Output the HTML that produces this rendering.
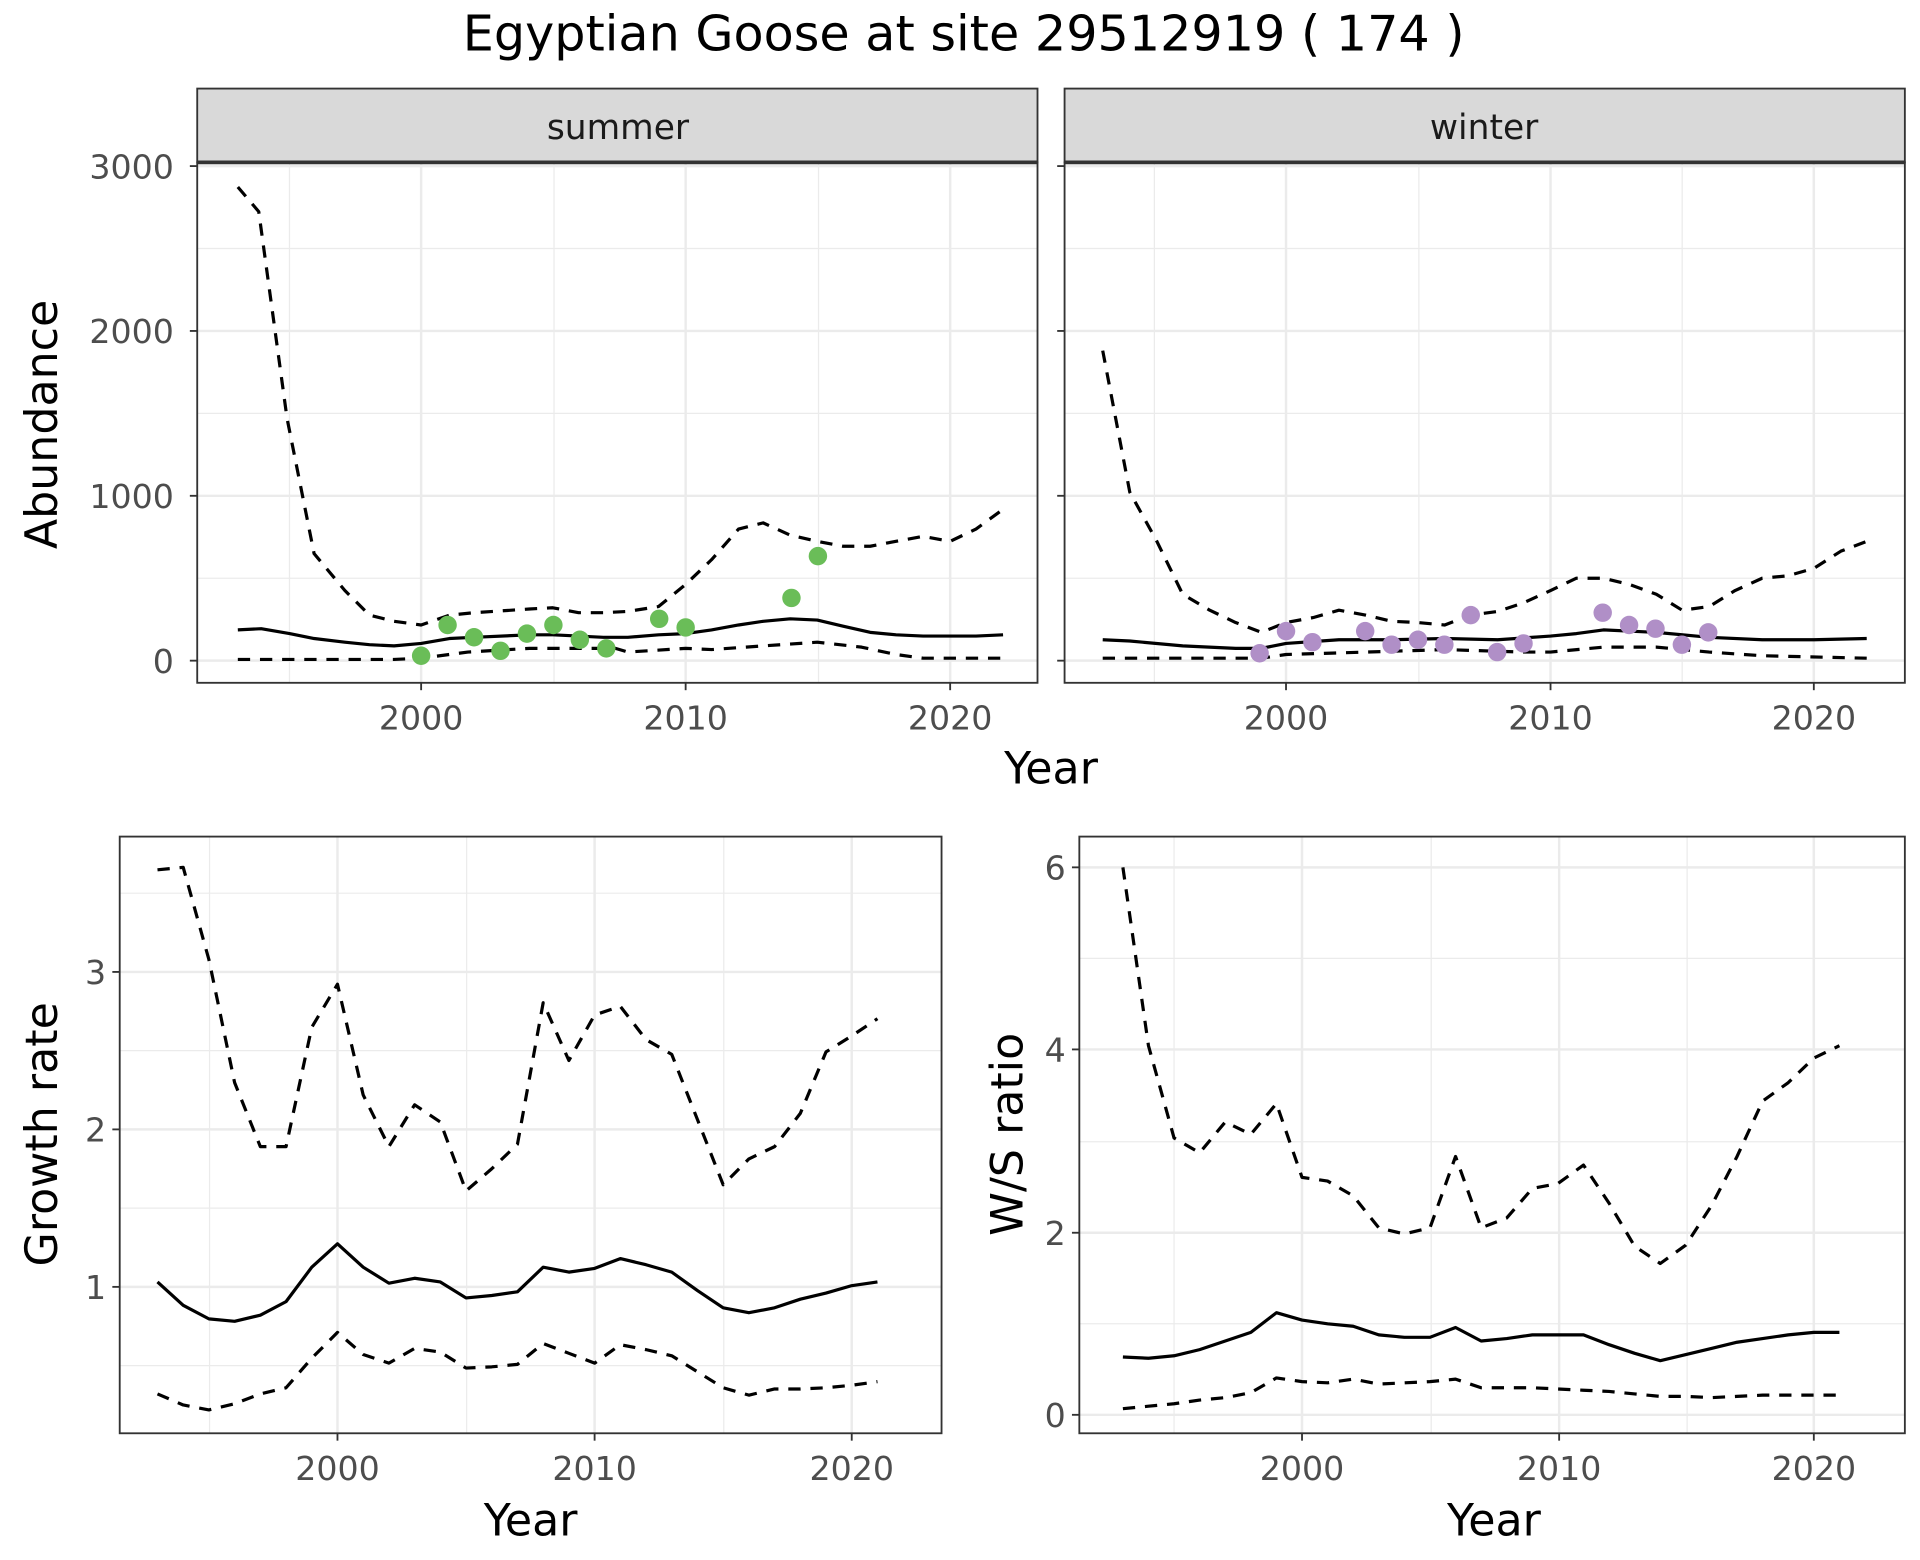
<!DOCTYPE html>
<html><head><meta charset="utf-8"><style>
html,body{margin:0;padding:0;background:#fff;}
svg{display:block;}
text{font-family:"DejaVu Sans","Liberation Sans",sans-serif;}
</style></head><body>
<svg id="s" width="1920" height="1560" viewBox="0 0 1560 1268" xmlns="http://www.w3.org/2000/svg">
<rect width="1560" height="1268" fill="#fff"/>
<text x="783" y="41" font-size="40" text-anchor="middle" fill="#000">Egyptian Goose at site 29512919 ( 174 )</text>

<g id="g"></g>

<rect x="160" y="72" width="683" height="60" fill="#d9d9d9" stroke="#333" stroke-width="1.5"/>
<rect x="865" y="72" width="683" height="60" fill="#d9d9d9" stroke="#333" stroke-width="1.5"/>
<line x1="160" x2="843" y1="132" y2="132" stroke="#333" stroke-width="3"/>
<line x1="865" x2="1548" y1="132" y2="132" stroke="#333" stroke-width="3"/>
<text x="502" y="113" font-size="28" text-anchor="middle" fill="#1a1a1a">summer</text>
<text x="1206" y="113" font-size="28" text-anchor="middle" fill="#1a1a1a">winter</text>

<g font-size="27" fill="#4d4d4d">
<text x="141" y="145" text-anchor="end">3000</text>
<text x="141" y="279" text-anchor="end">2000</text>
<text x="141" y="413" text-anchor="end">1000</text>
<text x="141" y="547" text-anchor="end">0</text>
<text x="342" y="593" text-anchor="middle">2000</text>
<text x="557" y="593" text-anchor="middle">2010</text>
<text x="772" y="593" text-anchor="middle">2020</text>
<text x="1045" y="593" text-anchor="middle">2000</text>
<text x="1260" y="593" text-anchor="middle">2010</text>
<text x="1474" y="593" text-anchor="middle">2020</text>
<text x="86" y="1056" text-anchor="end">1</text>
<text x="86" y="928" text-anchor="end">2</text>
<text x="86" y="800" text-anchor="end">3</text>
<text x="274" y="1203" text-anchor="middle">2000</text>
<text x="483" y="1203" text-anchor="middle">2010</text>
<text x="692" y="1203" text-anchor="middle">2020</text>
<text x="866" y="1160" text-anchor="end">0</text>
<text x="866" y="1012" text-anchor="end">2</text>
<text x="866" y="863" text-anchor="end">4</text>
<text x="866" y="715" text-anchor="end">6</text>
<text x="1058" y="1203" text-anchor="middle">2000</text>
<text x="1267" y="1203" text-anchor="middle">2010</text>
<text x="1474" y="1203" text-anchor="middle">2020</text>
</g>
<g font-size="36" fill="#000">
<text x="854" y="637" text-anchor="middle">Year</text>
<text x="431" y="1248" text-anchor="middle">Year</text>
<text x="1214" y="1248" text-anchor="middle">Year</text>
<text transform="translate(46,345) rotate(-90)" text-anchor="middle">Abundance</text>
<text transform="translate(46,922) rotate(-90)" text-anchor="middle">Growth rate</text>
<text transform="translate(831,922) rotate(-90)" text-anchor="middle">W/S ratio</text>
</g>
<g id="d"></g>
</svg>
<script>
var NS="http://www.w3.org/2000/svg";
var G=document.getElementById('g'),D=document.getElementById('d');
function el(p,t,a){var e=document.createElementNS(NS,t);for(var k in a)e.setAttribute(k,a[k]);p.appendChild(e);return e;}
function panel(x0,y0,x1,y1,xs,ys,xmin,ymin){
  xmin.forEach(function(x){el(G,'line',{x1:x,x2:x,y1:y0,y2:y1,stroke:'#ebebeb','stroke-width':1});});
  ymin.forEach(function(y){el(G,'line',{x1:x0,x2:x1,y1:y,y2:y,stroke:'#ebebeb','stroke-width':1});});
  xs.forEach(function(x){el(G,'line',{x1:x,x2:x,y1:y0,y2:y1,stroke:'#ebebeb','stroke-width':2});
    el(G,'line',{x1:x,x2:x,y1:y1,y2:y1+6,stroke:'#333','stroke-width':1.5});});
  ys.forEach(function(y){el(G,'line',{x1:x0,x2:x1,y1:y,y2:y,stroke:'#ebebeb','stroke-width':2});
    el(G,'line',{x1:x0-6,x2:x0,y1:y,y2:y,stroke:'#333','stroke-width':1.5});});
  el(G,'rect',{x:x0,y:y0,width:x1-x0,height:y1-y0,fill:'none',stroke:'#333','stroke-width':1.5});
}
panel(160,132,843,555,[342,557,772],[135,269,403,537],[235,450,665],[202,336,470]);
panel(865,132,1548,555,[1045,1260,1474],[135,269,403,537],[938,1153,1367],[202,336,470]);
panel(97,680,765,1165,[274,483,692],[790,918,1046],[170,379,588],[726,854,982,1110]);
panel(877,680,1548,1165,[1058,1267,1474],[705,853,1002,1150],[954,1163,1371],[779,928,1076]);
function line(pts,dash){el(D,'polyline',{points:pts.map(function(p){return p.join(',')}).join(' '),fill:'none',stroke:'#000','stroke-width':2.6,'stroke-dasharray':dash?'10,8':'none','stroke-linejoin':'round'});}
line([[193,152],[210,172],[233,340],[255,450],[280,480],[300,500],[320,505],[342,508],[365,500],[385,498],[430,495],[449,494],[470,498],[490,498],[510,497],[535,493],[557,475],[578,455],[600,430],[620,425],[642,435],[664,440],[685,444],[707,444],[728,440],[750,436],[772,440],[793,430],[815,414]],1);
line([[193,536],[320,536],[342,535],[380,530],[430,527],[500,527],[510,530],[557,527],[578,528],[620,525],[664,522],[700,526],[728,532],[750,535],[815,535]],1);
line([[193,512],[212,511],[235,515],[255,519],[280,522],[300,524],[320,525],[342,523],[365,519],[385,518],[430,516],[449,516],[470,517],[490,518],[510,518],[535,516],[557,515],[578,512],[600,508],[620,505],[642,503],[664,504],[685,509],[707,514],[728,516],[750,517],[772,517],[793,517],[815,516]],0);
line([[896,285],[918,400],[940,440],[961,483],[983,496],[1004,506],[1025,514],[1045,506],[1067,502],[1088,496],[1110,500],[1131,505],[1152,506],[1174,508],[1195,500],[1217,497],[1238,490],[1260,480],[1281,470],[1303,470],[1324,475],[1346,483],[1367,496],[1389,493],[1410,480],[1432,470],[1453,468],[1474,462],[1496,448],[1517,440]],1);
line([[896,535],[1025,535],[1045,532],[1110,530],[1174,528],[1238,530],[1260,530],[1303,526],[1346,526],[1389,530],[1432,533],[1517,535]],1);
line([[896,520],[918,521],[961,525],[1004,527],[1025,527],[1045,523],[1088,520],[1131,520],[1174,519],[1217,520],[1260,517],[1281,515],[1303,512],[1346,514],[1389,518],[1432,520],[1474,520],[1517,519]],0);
[[2000,533],[2001,508],[2002,518],[2003,529],[2004,515],[2005,508],[2006,520],[2007,527],[2009,503],[2010,510],[2014,486],[2015,452]].forEach(function(p){el(D,'circle',{cx:342+21.5*(p[0]-2000),cy:p[1],r:7.5,fill:'#6abd58'});});
[[1999,531],[2000,513],[2001,522],[2003,513],[2004,524],[2005,520],[2006,524],[2007,500],[2008,530],[2009,523],[2012,498],[2013,508],[2014,511],[2015,524],[2016,514]].forEach(function(p){el(D,'circle',{cx:1045+21.45*(p[0]-2000),cy:p[1],r:7.5,fill:'#b08fc7'});});
function yl(x0,sl,ys,dash){line(ys.map(function(y,i){return [x0+sl*(i-7),y];}),dash);}
yl(274,20.9,[707,705,780,880,932,932,835,800,890,932,898,912,968,950,930,815,862,825,818,845,857,910,963,942,932,905,855,842,828],1);
yl(274,20.9,[1042,1061,1072,1074,1069,1058,1030,1011,1030,1043,1039,1042,1055,1053,1050,1030,1034,1031,1023,1028,1034,1049,1063,1067,1063,1056,1051,1045,1042],0);
yl(274,20.9,[1133,1142,1146,1141,1133,1128,1104,1083,1101,1108,1096,1099,1112,1111,1109,1092,1100,1108,1093,1097,1102,1115,1128,1134,1129,1129,1128,1126,1123],1);
yl(1058,20.8,[705,850,925,937,912,922,897,957,960,972,998,1003,998,940,998,990,966,962,947,978,1013,1027,1012,980,940,895,880,860,850],1);
yl(1058,20.8,[1103,1104,1102,1097,1090,1083,1067,1073,1076,1078,1085,1087,1087,1079,1090,1088,1085,1085,1085,1093,1100,1106,1101,1096,1091,1088,1085,1083,1083],0);
yl(1058,20.8,[1145,1143,1141,1138,1136,1132,1120,1123,1124,1121,1125,1124,1123,1121,1128,1128,1128,1129,1130,1131,1133,1135,1135,1136,1135,1134,1134,1134,1134],1);
</script>
</body></html>
